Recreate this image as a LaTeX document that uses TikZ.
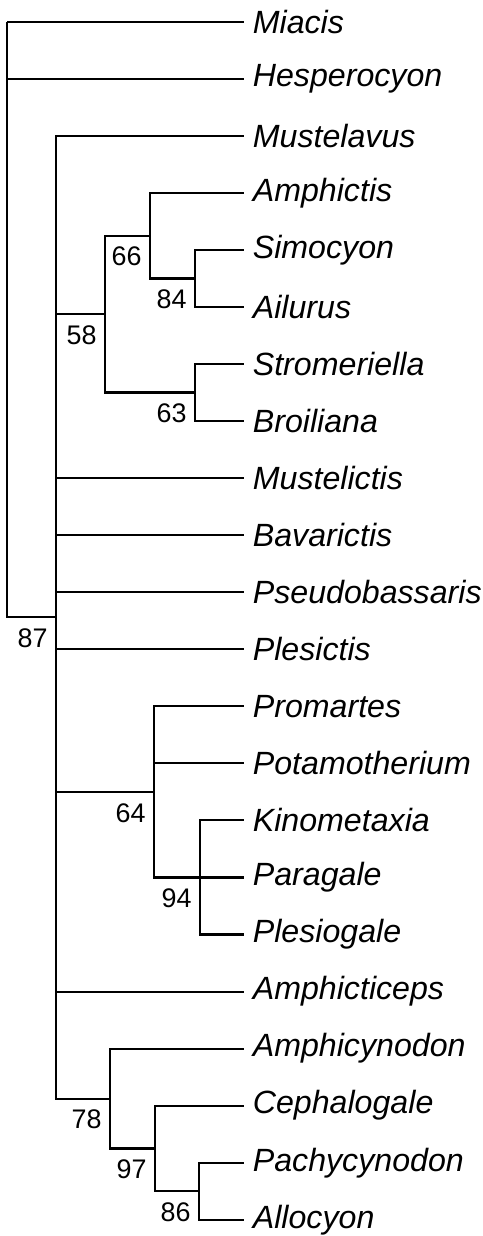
\documentclass[tikz,border=0pt]{standalone}
\usepackage{fontspec}
\setmainfont{Liberation Sans}
\begin{document}
\begin{tikzpicture}[
        branch/.style={line width=1.2pt},
        taxon/.style={anchor=west,inner xsep=0.17cm,inner ysep=0pt,font=\fontsize{18.3}{20}\selectfont\itshape},
        support/.style={anchor=east,inner sep=0pt,xshift=-0.16cm,yshift=-0.42cm,font=\fontsize{15.3}{17}\selectfont}
    ]
                \useasboundingbox (0,0) rectangle (9.64,-24.72);

                \node[taxon] (Miacis) at (4.88,-0.434) {Miacis};
                \node[taxon] (Hesperocyon) at (4.88,-1.575) {Hesperocyon};
                \node[taxon] (Mustelavus) at (4.88,-2.716) {Mustelavus};
                \node[taxon] (Amphictis) at (4.88,-3.857) {Amphictis};
                \node[taxon] (Simocyon) at (4.88,-4.998) {Simocyon};
                \node[taxon] (Ailurus) at (4.88,-6.139) {Ailurus};
                \node[taxon] (Stromeriella) at (4.88,-7.280) {Stromeriella};
                \node[taxon] (Broiliana) at (4.88,-8.421) {Broiliana};
                \node[taxon] (Mustelictis) at (4.88,-9.562) {Mustelictis};
                \node[taxon] (Bavarictis) at (4.88,-10.703) {Bavarictis};
                \node[taxon] (Pseudobassaris) at (4.88,-11.844) {Pseudobassaris};
                \node[taxon] (Plesictis) at (4.88,-12.985) {Plesictis};
                \node[taxon] (Promartes) at (4.88,-14.126) {Promartes};
                \node[taxon] (Potamotherium) at (4.88,-15.267) {Potamotherium};
                \node[taxon] (Kinometaxia) at (4.88,-16.408) {Kinometaxia};
                \node[taxon] (Paragale) at (4.88,-17.549) {Paragale};
                \node[taxon] (Plesiogale) at (4.88,-18.690) {Plesiogale};
                \node[taxon] (Amphicticeps) at (4.88,-19.831) {Amphicticeps};
                \node[taxon] (Amphicynodon) at (4.88,-20.972) {Amphicynodon};
                \node[taxon] (Cephalogale) at (4.88,-22.113) {Cephalogale};
                \node[taxon] (Pachycynodon) at (4.88,-23.254) {Pachycynodon};
                \node[taxon] (Allocyon) at (4.88,-24.395) {Allocyon};

                \coordinate (Root) at (0.14,-0.434);
                \coordinate (CladeA) at (1.12,-12.344);
                \coordinate (CladeB) at (2.10,-6.282);
                \coordinate (CladeC) at (3.00,-4.713);
                \coordinate (CladeD) at (3.90,-5.569);
                \coordinate (CladeE) at (3.90,-7.851);
                \coordinate (CladeF) at (3.08,-15.838);
                \coordinate (CladeG) at (4.00,-17.549);
                \coordinate (CladeH) at (2.20,-21.971);
                \coordinate (CladeI) at (3.10,-22.969);
                \coordinate (CladeJ) at (3.98,-23.825);

                \draw[branch] (Root) |- (Miacis.west) (Root) |- (Hesperocyon.west) (Root) |- (CladeA);
                \draw[branch] (CladeA) |- (Mustelavus.west) (CladeA) |- (CladeB) (CladeA) |- (Mustelictis.west)
                    (CladeA) |- (Bavarictis.west) (CladeA) |- (Pseudobassaris.west) (CladeA) |- (Plesictis.west)
                    (CladeA) |- (CladeF) (CladeA) |- (Amphicticeps.west) (CladeA) |- (CladeH);
                \draw[branch] (CladeB) |- (CladeC) (CladeB) |- (CladeE);
                \draw[branch] (CladeC) |- (Amphictis.west) (CladeC) |- (CladeD);
                \draw[branch] (CladeD) |- (Simocyon.west) (CladeD) |- (Ailurus.west);
                \draw[branch] (CladeE) |- (Stromeriella.west) (CladeE) |- (Broiliana.west);
                \draw[branch] (CladeF) |- (Promartes.west) (CladeF) |- (Potamotherium.west) (CladeF) |- (CladeG);
                \draw[branch] (CladeG) |- (Kinometaxia.west) (CladeG) |- (Paragale.west) (CladeG) |- (Plesiogale.west);
                \draw[branch] (CladeH) |- (Amphicynodon.west) (CladeH) |- (CladeI);
                \draw[branch] (CladeI) |- (Cephalogale.west) (CladeI) |- (CladeJ);
                \draw[branch] (CladeJ) |- (Pachycynodon.west) (CladeJ) |- (Allocyon.west);

                \node[support] (SupportA) at (CladeA) {87};
                \node[support] (SupportB) at (CladeB) {58};
                \node[support] (SupportC) at (CladeC) {66};
                \node[support] (SupportD) at (CladeD) {84};
                \node[support] (SupportE) at (CladeE) {63};
                \node[support] (SupportF) at (CladeF) {64};
                \node[support] (SupportG) at (CladeG) {94};
                \node[support] (SupportH) at (CladeH) {78};
                \node[support] (SupportI) at (CladeI) {97};
                \node[support] (SupportJ) at (CladeJ) {86};
            \end{tikzpicture}
\end{document}
